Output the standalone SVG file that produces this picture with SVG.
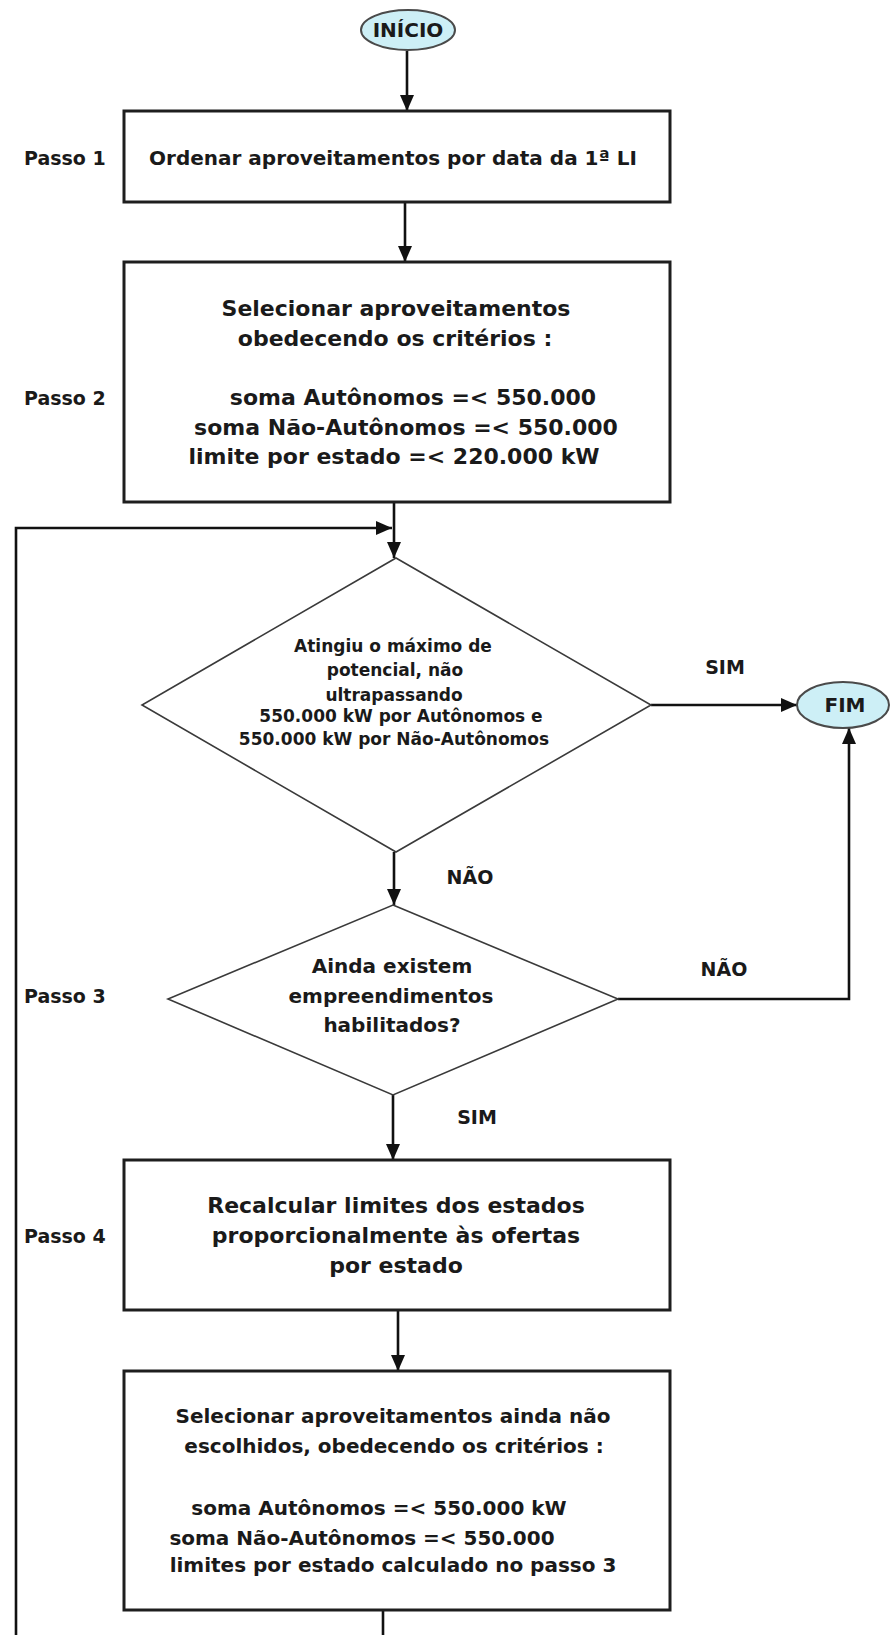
<svg xmlns="http://www.w3.org/2000/svg" width="890" height="1635" viewBox="0 0 890 1635">
  <defs>
    <marker id="arrow" viewBox="0 0 16 14" markerWidth="16" markerHeight="14" markerUnits="userSpaceOnUse" refX="16" refY="7" orient="auto">
      <path d="M0,0 L16,7 L0,14 z" fill="#111"/>
    </marker>
    <style>
      text { font-family: "DejaVu Sans", Verdana, sans-serif; font-weight: bold; fill: #1a1a1a; }
      .box { fill: #ffffff; stroke: #1e1e1e; stroke-width: 3; }
      .dec { fill: #ffffff; stroke: #3a3a3a; stroke-width: 1.6; }
      .term { fill: #cdeff6; stroke: #4a4a4a; stroke-width: 2; }
      .conn { fill: none; stroke: #111; stroke-width: 2.6; }
      .mid { text-anchor: middle; }
      .f17 { font-size: 17px; }
      .f19 { font-size: 19px; }
      .f20 { font-size: 20px; }
      .f22 { font-size: 22px; }
    </style>
  </defs>
  <rect width="890" height="1635" fill="#ffffff"/>

  <!-- step labels -->
  <g id="step-labels" class="f19">
    <text x="24" y="165">Passo 1</text>
    <text x="24" y="405">Passo 2</text>
    <text x="24" y="1003">Passo 3</text>
    <text x="24" y="1243">Passo 4</text>
  </g>

  <!-- connectors -->
  <g id="connectors">
    <path class="conn" d="M407,51 V111" marker-end="url(#arrow)"/>
    <path class="conn" d="M405,202 V262" marker-end="url(#arrow)"/>
    <path class="conn" d="M394,502 V558" marker-end="url(#arrow)"/>
    <path class="conn" d="M16,1635 V528 H392" marker-end="url(#arrow)"/>
    <path class="conn" d="M394,852 V905" marker-end="url(#arrow)"/>
    <path class="conn" d="M651,705 H797" marker-end="url(#arrow)"/>
    <path class="conn" d="M618,999 H849 V728" marker-end="url(#arrow)"/>
    <path class="conn" d="M393,1095 V1160" marker-end="url(#arrow)"/>
    <path class="conn" d="M398,1310 V1371" marker-end="url(#arrow)"/>
    <path class="conn" d="M383,1610 V1635"/>
    <text class="f19 mid" x="725" y="674">SIM</text>
    <text class="f19 mid" x="470" y="884">NÃO</text>
    <text class="f19 mid" x="724" y="976">NÃO</text>
    <text class="f19 mid" x="477" y="1124">SIM</text>
  </g>

  <g id="inicio">
    <ellipse class="term" cx="408" cy="30" rx="47" ry="20"/>
    <text class="f20 mid" x="408" y="37">INÍCIO</text>
  </g>

  <g id="passo1">
    <rect class="box" x="124" y="111" width="546" height="91"/>
    <text class="f20 mid" x="393" y="165">Ordenar aproveitamentos por data da 1ª LI</text>
  </g>

  <g id="passo2">
    <rect class="box" x="124" y="262" width="546" height="240"/>
    <text class="f22 mid" x="396" y="316">Selecionar aproveitamentos</text>
    <text class="f22 mid" x="395" y="346">obedecendo os critérios :</text>
    <text class="f22 mid" x="413" y="405">soma Autônomos =&lt; 550.000</text>
    <text class="f22 mid" x="406" y="435">soma Não-Autônomos =&lt; 550.000</text>
    <text class="f22 mid" x="394" y="464">limite por estado =&lt; 220.000 kW</text>
  </g>

  <g id="maximo">
    <polygon class="dec" points="396,558 651,705 396,852 142,705"/>
    <text class="f17 mid" x="393" y="652">Atingiu o máximo de</text>
    <text class="f17 mid" x="395" y="676">potencial, não</text>
    <text class="f17 mid" x="394" y="701">ultrapassando</text>
    <text class="f17 mid" x="401" y="722">550.000 kW por Autônomos e</text>
    <text class="f17 mid" x="394" y="745">550.000 kW por Não-Autônomos</text>
  </g>

  <g id="fim">
    <ellipse class="term" cx="843" cy="705" rx="46" ry="23"/>
    <text class="f20 mid" x="845" y="712">FIM</text>
  </g>

  <g id="passo3">
    <polygon class="dec" points="393,905 618,999 393,1095 168,999"/>
    <text class="f20 mid" x="392" y="973">Ainda existem</text>
    <text class="f20 mid" x="391" y="1003">empreendimentos</text>
    <text class="f20 mid" x="392" y="1032">habilitados?</text>
  </g>

  <g id="passo4">
    <rect class="box" x="124" y="1160" width="546" height="150"/>
    <text class="f22 mid" x="396" y="1213">Recalcular limites dos estados</text>
    <text class="f22 mid" x="396" y="1243">proporcionalmente às ofertas</text>
    <text class="f22 mid" x="396" y="1273">por estado</text>
  </g>

  <g id="passo5">
    <rect class="box" x="124" y="1371" width="546" height="239"/>
    <text class="f20 mid" x="393" y="1423">Selecionar aproveitamentos ainda não</text>
    <text class="f20 mid" x="394" y="1453">escolhidos, obedecendo os critérios :</text>
    <text class="f20 mid" x="379" y="1515">soma Autônomos =&lt; 550.000 kW</text>
    <text class="f20 mid" x="362" y="1545">soma Não-Autônomos =&lt; 550.000</text>
    <text class="f20 mid" x="393" y="1572">limites por estado calculado no passo 3</text>
  </g>
</svg>
